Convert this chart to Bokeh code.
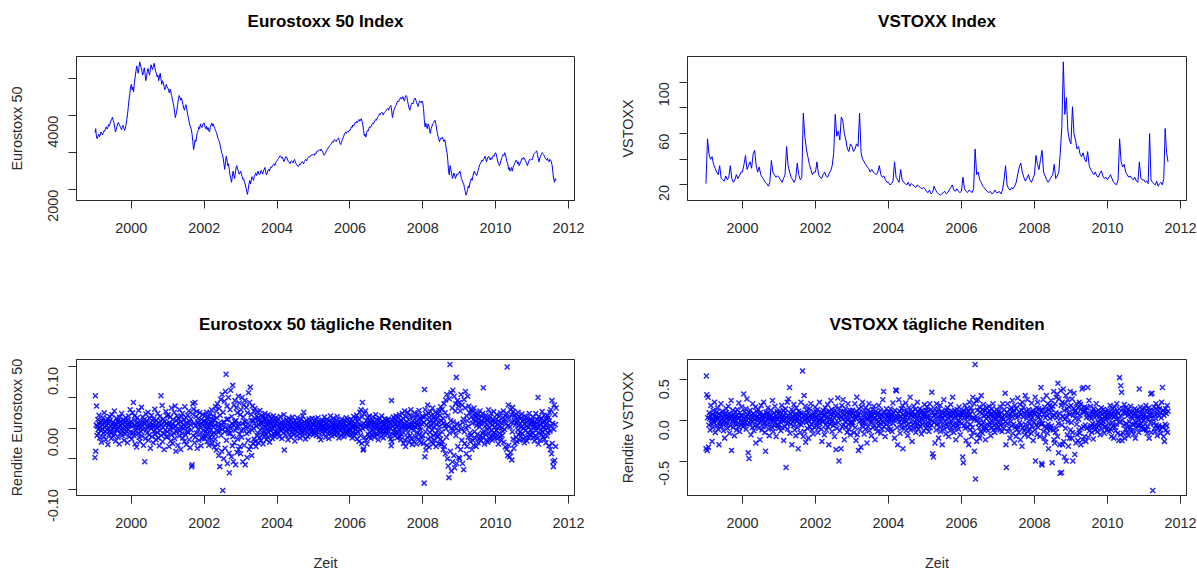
import math
import numpy as np
from bokeh.plotting import figure
from bokeh.layouts import row, column
from bokeh.models import FixedTicker, Range1d, PrintfTickFormatter, Title
from bokeh.embed import file_html
from bokeh.resources import INLINE

# ---------------------------------------------------------------- data
START_YEAR = 1999
LAST_DATE = 2011.66          # last observation (end of August 2011)
X_TICKS = [2000, 2002, 2004, 2006, 2008, 2010, 2012]

# Eurostoxx 50 index level (about four readings per month)
estx_1999 = [3540, 3650, 3420, 3380, 3450, 3500, 3430, 3480, 3560, 3520, 3480, 3540, 3600, 3580, 3650, 3700, 3640, 3690, 3760, 3720, 3800, 3860, 3900, 3960, 3880, 3820, 3700, 3560, 3620, 3720, 3780, 3820, 3760, 3720, 3680, 3620, 3700, 3740, 3680, 3600, 3650, 3760, 3900, 4050, 4250, 4450, 4600, 4780]
estx_2000 = [4850, 4700, 4780, 4650, 4900, 5050, 5200, 5350, 5250, 5150, 5300, 5460, 5380, 5300, 5200, 5100, 5200, 5300, 5150, 4950, 5050, 5200, 5280, 5180, 5100, 5250, 5380, 5300, 5250, 5350, 5420, 5300, 5200, 5150, 5050, 5100, 4950, 5050, 5150, 5000, 4850, 4950, 4900, 4800, 4700, 4760, 4850, 4780]
estx_2001 = [4750, 4700, 4620, 4720, 4650, 4550, 4450, 4350, 4250, 4100, 3950, 4050, 4150, 4300, 4450, 4550, 4500, 4420, 4480, 4400, 4300, 4200, 4150, 4250, 4300, 4180, 4050, 3950, 3850, 3750, 3700, 3620, 3500, 3300, 3080, 3200, 3350, 3300, 3450, 3550, 3600, 3700, 3650, 3780, 3720, 3680, 3750, 3800]
estx_2002 = [3800, 3700, 3650, 3720, 3620, 3680, 3600, 3560, 3680, 3750, 3800, 3720, 3780, 3700, 3650, 3600, 3550, 3480, 3400, 3350, 3300, 3200, 3100, 3000, 2950, 2850, 2700, 2550, 2750, 2900, 2800, 2650, 2700, 2550, 2400, 2300, 2200, 2350, 2500, 2400, 2300, 2450, 2600, 2650, 2550, 2500, 2420, 2450]
estx_2003 = [2500, 2420, 2350, 2280, 2300, 2200, 2150, 2050, 1950, 1870, 2000, 2150, 2250, 2150, 2250, 2350, 2300, 2250, 2350, 2400, 2450, 2380, 2450, 2500, 2420, 2400, 2450, 2520, 2480, 2420, 2500, 2550, 2600, 2480, 2400, 2450, 2520, 2550, 2500, 2580, 2620, 2600, 2650, 2680, 2700, 2650, 2720, 2760]
estx_2004 = [2780, 2820, 2850, 2880, 2920, 2900, 2850, 2880, 2820, 2760, 2800, 2880, 2900, 2860, 2800, 2760, 2740, 2700, 2750, 2780, 2760, 2720, 2780, 2820, 2760, 2700, 2680, 2640, 2620, 2660, 2700, 2680, 2720, 2760, 2740, 2700, 2760, 2800, 2820, 2780, 2840, 2870, 2900, 2880, 2920, 2940, 2920, 2950]
estx_2005 = [2950, 2930, 2980, 2960, 3020, 3050, 3040, 3060, 3080, 3050, 3100, 3060, 3020, 2980, 2930, 2960, 3000, 3040, 3080, 3120, 3150, 3180, 3200, 3230, 3260, 3300, 3280, 3330, 3360, 3320, 3300, 3350, 3380, 3400, 3330, 3250, 3220, 3280, 3350, 3400, 3450, 3520, 3550, 3520, 3560, 3580, 3560, 3600]
estx_2006 = [3600, 3650, 3700, 3680, 3750, 3720, 3780, 3820, 3800, 3850, 3820, 3870, 3900, 3850, 3880, 3920, 3850, 3750, 3600, 3460, 3500, 3420, 3550, 3600, 3580, 3650, 3700, 3680, 3720, 3760, 3800, 3780, 3830, 3860, 3900, 3880, 3940, 3980, 4000, 4050, 4030, 4080, 4100, 4060, 4020, 4080, 4100, 4120]
estx_2007 = [4150, 4180, 4200, 4150, 4220, 4250, 4280, 4150, 3950, 4050, 4150, 4200, 4250, 4300, 4350, 4400, 4380, 4420, 4460, 4500, 4450, 4480, 4520, 4420, 4400, 4500, 4550, 4520, 4400, 4300, 4200, 4150, 4250, 4300, 4350, 4320, 4400, 4450, 4480, 4420, 4350, 4300, 4250, 4350, 4400, 4380, 4350, 4400]
estx_2008 = [4350, 4200, 3900, 3700, 3800, 3720, 3650, 3780, 3750, 3600, 3520, 3650, 3700, 3780, 3800, 3850, 3880, 3800, 3700, 3550, 3450, 3400, 3300, 3350, 3400, 3380, 3420, 3350, 3300, 3350, 3250, 3100, 3000, 2800, 2500, 2400, 2650, 2550, 2450, 2300, 2350, 2450, 2400, 2300, 2350, 2420, 2400, 2450]
estx_2009 = [2450, 2500, 2400, 2300, 2250, 2180, 2150, 2050, 1950, 1850, 1900, 2000, 2100, 2050, 2150, 2250, 2300, 2250, 2350, 2450, 2500, 2450, 2400, 2380, 2450, 2520, 2600, 2680, 2700, 2750, 2800, 2770, 2820, 2850, 2900, 2850, 2750, 2820, 2880, 2900, 2850, 2800, 2860, 2820, 2880, 2920, 2900, 2960]
estx_2010 = [3000, 2950, 2850, 2750, 2700, 2650, 2700, 2780, 2850, 2900, 2950, 2920, 3000, 2950, 2850, 2750, 2700, 2550, 2600, 2500, 2550, 2600, 2500, 2600, 2650, 2700, 2750, 2800, 2780, 2700, 2750, 2650, 2700, 2750, 2800, 2850, 2820, 2870, 2850, 2800, 2750, 2700, 2650, 2720, 2780, 2820, 2800, 2820]
estx_2011 = [2800, 2850, 2950, 2980, 3000, 3030, 3050, 2950, 2850, 2750, 2850, 2900, 2950, 3000, 2980, 2950, 2900, 2850, 2820, 2800, 2850, 2780, 2750, 2820, 2800, 2750, 2650, 2450, 2280, 2200, 2300, 2250]

# VSTOXX index level
vstx_1999 = [21, 56, 44, 40, 42, 36, 33, 30, 28, 35, 25, 24, 23, 27, 24, 26, 35, 25, 22, 24, 28, 25, 27, 30]
vstx_2000 = [30, 36, 43, 32, 35, 38, 33, 44, 47, 35, 30, 34, 28, 26, 24, 22, 21, 19, 22, 39, 30, 28, 26, 27]
vstx_2001 = [26, 24, 22, 25, 28, 50, 35, 30, 26, 24, 22, 25, 37, 28, 24, 26, 76, 58, 48, 42, 36, 32, 28, 30]
vstx_2002 = [30, 38, 28, 26, 25, 28, 30, 27, 26, 29, 31, 35, 45, 75, 58, 62, 55, 73, 70, 60, 55, 48, 46, 52]
vstx_2003 = [50, 46, 48, 52, 50, 76, 45, 40, 38, 36, 34, 33, 30, 32, 30, 29, 28, 30, 35, 28, 26, 27, 24, 22]
vstx_2004 = [22, 20, 21, 23, 38, 26, 24, 22, 32, 24, 22, 21, 20, 22, 19, 21, 20, 19, 18, 20, 19, 18, 17, 18]
vstx_2005 = [17, 15, 14, 16, 13, 14, 19, 16, 14, 13, 12, 13, 14, 15, 13, 14, 16, 18, 20, 16, 15, 17, 15, 14]
vstx_2006 = [15, 26, 17, 15, 14, 16, 15, 14, 17, 48, 28, 30, 24, 22, 19, 18, 16, 15, 14, 15, 13, 14, 16, 14]
vstx_2007 = [14, 15, 13, 16, 24, 35, 20, 17, 16, 18, 17, 19, 22, 28, 34, 37, 30, 26, 23, 25, 28, 24, 22, 25]
vstx_2008 = [28, 43, 36, 32, 40, 47, 30, 27, 24, 22, 24, 26, 28, 36, 25, 27, 30, 45, 65, 116, 75, 88, 62, 55]
vstx_2009 = [52, 81, 60, 55, 48, 50, 44, 42, 45, 40, 38, 46, 35, 32, 30, 28, 30, 27, 26, 29, 31, 27, 25, 26]
vstx_2010 = [24, 26, 28, 25, 22, 21, 20, 24, 56, 38, 34, 36, 30, 28, 26, 27, 25, 24, 26, 23, 22, 38, 25, 24]
vstx_2011 = [24, 22, 23, 21, 60, 24, 22, 21, 20, 23, 19, 21, 22, 20, 25, 64, 45, 38]

# Eurostoxx 50 daily returns, in thousandths
eret_1999 = [-48, 53, -38, 5, 36, -12, 3, 14, -2, -9, 21, 7, -16, 1, 10, -4, -23, 12, 6, -1, 17, -8, -14, 25, 2, -6, 9, -19, 11, 4, -3, 15, -27, 8, 0, -11, 19, -5, 13, 3, -17, -7, 22, 6, -2, 10, -13, 1, 28, -9, 4, -21, 7, 16, -4, -1, 12, -15, 9, 2, -26, 18, 5, -8, 11, -3, 24, -12, 0, 7, -6, 14, -20, 3, 9, -10, 17, 1, -5, 13, -24, 6, -2, 20, 8, -14, 4, 30, -7, 11]
eret_2000 = [10, -18, 3, 25, -7, 42, -12, 5, 20, -26, 1, 13, -4, -31, 8, 17, -9, 2, 29, -15, 6, -22, 11, 0, -6, 34, -13, 4, 18, -2, -28, 9, 14, -55, 7, -17, 23, -3, 12, -8, 1, 26, -20, 5, -11, 16, 3, -33, 9, -1, 21, -14, 6, 2, -24, 15, -5, 10, 31, -10, 4, -19, 13, 0, -7, 24, -16, 8, 3, -29, 19, -4, 12, 53, -12, 6, 37, -22, 1, 15, -9, -35, 11, 5, -3, 27, -14, 7, 20, -6]
eret_2001 = [-14, 22, 5, -30, 9, -3, 18, -21, 2, 33, -11, 7, -25, 14, 0, -8, 26, -17, 36, 4, -38, 12, -6, 20, -2, -28, 16, 8, -13, 30, -4, 10, -35, 1, 19, -9, 24, -16, 6, -1, 13, -22, 35, 3, -11, 17, -27, 9, -5, 21, -7, 2, 28, -19, 11, -32, 5, 15, -3, -63, -60, 23, 40, -12, 31, 8, -24, 42, -15, 4, 19, -8, 27, -33, 10, -2, 16, -20, 6, 25, -10, 1, -29, 14, 7, -17, 22, -4, 11, -13]
eret_2002 = [12, -17, 4, 21, -6, -13, 9, 26, -2, -22, 15, 3, -9, 18, -28, 7, 1, -15, 24, -4, 11, -19, 30, 6, -11, -25, 14, 2, 20, -7, -31, 13, 5, -18, 35, -10, 28, -36, 17, -4, 40, -27, 3, 8, -45, 32, -5, -63, 21, 0, 47, -12, 6, -38, 55, -2, -102, 26, 9, -50, 10, 44, -6, -33, 60, 2, 88, -20, 14, 36, -58, -3, 15, 50, -9, -41, -73, 4, 30, -8, 62, -1, -47, 19, 7, -29, 70, -14, -55, 5, 38, -24, 11, 45, -4, -60, 12, 33, 0, -40, 25, -18, 3, 52, -35, 8, 41, -10, -30, 22]
eret_2003 = [-42, 30, -4, -15, 50, 7, -55, 18, -2, 38, -28, 11, 45, -60, 3, 10, 34, -9, -48, 25, 1, -20, 58, -6, -35, 42, 5, 67, -30, 13, 22, -45, -3, 36, 12, -25, 0, 28, -18, 8, 32, -22, 15, -30, 3, 20, -12, 26, -8, 17, -24, 5, 13, -16, 29, -3, 10, -20, 7, 21, -11, 1, 18, -26, 9, -5, 14, -13, 24, 2, -9, 16, -19, 6, 11, -2, -15, 22, 4, -7, 12, -23, 8, 19, -4, 0, -12, 15, 6, -17, 10, -1, 20, -9, 3, 13, -14, 7, -6, 17, -10, 5]
eret_2004 = [11, -6, 3, 15, -9, 1, -14, 7, 19, -4, 0, 9, -17, 5, -2, 12, -8, 22, -36, 4, 8, -12, 2, 14, -5, -1, 10, -19, 6, 16, -3, -10, 1, 7, -15, 13, 3, -7, 18, -2, 9, -11, 0, 5, -21, 12, -4, 8, 2, -13, 17, -6, 4, 0, -9, 11, 6, -16, 1, 14, -3, 8, -7, 20, -12, 3, 26, -5, 10, -1, -18, 7, 2, 13, -8, 4, -14, 9, -2, 15, 5, -10, 1, 11, -6, 0, 16, -4, 7, -11]
eret_2005 = [6, -3, 12, -8, 1, 15, -5, -12, 4, 9, -1, 17, -7, 2, -14, 10, 0, 5, -19, 8, 3, -6, 13, -2, 11, -10, 4, 18, -4, 0, -15, 7, 9, -3, 14, -9, 1, 6, -17, 12, 2, -5, 20, -8, 3, 10, -13, -1, 7, 16, -6, 4, -11, 0, 8, -3, 13, -7, 2, 19, -10, 5, 1, -16, 9, -2, 11, -4, 6, -12, 15, 0, -8, 3, 10, -14, 7, -1, 12, -6, 4, 17, -9, 2, -5, 14, -11, 8, 0, -3]
eret_2006 = [9, -4, 14, -11, 2, 7, -16, 12, 0, -7, 19, 4, -13, 8, -2, 16, -9, 3, 21, -18, 10, -5, 1, 15, -22, 6, 26, -3, -12, 30, 5, -25, 18, 42, -1, -36, -34, 8, 24, -15, 2, 28, -20, 4, 12, -26, 8, 17, -10, 3, -14, 20, -6, 11, 0, -17, 9, 5, -12, 13, -3, 18, -8, 2, 10, -15, 6, -1, 22, -9, 4, 14, -11, 1, 7, -19, 12, -4, 16, 0, -7, 9, -13, 3, 20, -5, 11, -2, -16, 8, 4, -10, 15, -6, 1, 13]
eret_2007 = [8, -3, 12, -9, 1, 15, -6, 4, -13, 10, 0, 7, -18, -29, 45, -22, 13, 3, -10, 18, -5, 9, -1, 14, -12, 6, 20, -7, 2, -16, 11, 4, -8, 17, -3, 22, -14, 5, 9, -19, 13, 0, -11, 24, -6, 16, -25, 8, 2, 28, -20, 3, -30, 19, -2, 10, -15, 26, -8, 4, 14, -23, 1, 21, -12, 6, 30, -17, 0, 6, -27, 12, 18, -4, -21, 3, 25, 9, -14, 2, 17, -26, 11, -7, 5, 22, -18, 5, 29, -10, 1, 15, -3, -24, 13, 7, -16, 20]
eret_2008 = [-12, 18, -25, 9, -90, 63, -47, 30, -6, -36, 22, 5, -28, 15, 38, -18, 2, 24, -31, 11, -7, 27, -15, 4, 20, -22, 13, -3, 33, -26, 8, -12, 19, 1, -20, 26, -9, 14, -30, 6, 17, -14, 23, -4, 10, -25, 29, -11, 3, 21, -18, 35, -27, 12, -6, 31, -22, 16, -35, 8, 40, -30, 4, 25, -42, 46, -1, -15, 55, 6, -50, 20, -62, 3, -81, 48, -8, 104, -38, 12, 58, -70, 0, 33, -55, 62, 10, -5, -45, 52, -65, 2, 28, 40, -12, 83, -58, 7, 45, -30, -4, 36, -48]
eret_2009 = [42, -50, 5, 28, -35, 55, -2, -20, 38, -58, 9, 15, -68, 47, -6, -25, 33, 60, 1, -42, 20, -30, 12, 52, -15, 3, 36, -48, 25, -8, -22, 30, -12, 18, -35, 8, 27, -20, 14, -28, 33, -6, 20, -16, 11, 25, -30, 4, 17, -10, 22, -24, 9, 15, -18, 2, 28, -13, 7, -21, 19, 12, -8, 24, -15, 66, -5, 10, -26, 16, 3, -11, 21, -19, 6, 14, -2, -23, 13, 30, -9, 1, -17, 18, 8, -14, 24, -4, 11, -20, 5, 15, -12, 27, -7, 2, -16, 9]
eret_2010 = [-10, 15, -4, 22, -17, 6, 0, -26, 12, 19, -8, 3, -14, 25, -20, 9, 1, -12, 17, -5, 28, -23, 10, -2, 14, -31, 20, 7, -35, 24, 100, -45, 4, 38, -28, 16, -47, 2, 30, -40, 9, 22, -52, -6, 34, -18, 27, -33, 12, 21, -25, 5, 18, -15, 9, -22, 13, -3, 26, -11, 4, 19, -20, 8, -6, 16, -13, 2, 23, -9, 11, -18, 0, 14, -24, 7, 20, -4, -15, 10, 3, -21, 17, -7, 12, 1, -16, 24, -10, 6, -12, 15, -3, 9]
eret_2011 = [12, -8, 3, 18, -15, 6, -21, 10, 1, -12, 24, -4, 8, -17, 14, 0, 50, -26, 19, -9, 5, 13, -20, 7, -2, 16, -11, 27, -6, 9, -14, 2, 21, -18, 11, -3, 15, -24, 4, 8, -13, 20, -7, 1, 17, -29, 12, 26, -5, -35, 30, 3, -42, 45, -25, 8, -55, -63, -2, 38, -53, 22, 6, -30, 33]

# VSTOXX daily returns, in hundredths
vret_1999 = [-35, 54, 31, -37, 3, 28, -33, -6, 9, 2, -12, 5, 18, -4, 1, -26, 7, -9, 12, 0, -3, 22, 6, -15, 4, -1, 10, -7, 2, 15, -11, 3, -30, 8, -2, 6, -5, 20, -8, 1, 11, -4, 3, -13, 7, 0, -22, 5, 9, -3, 14, -6, 2, -10, 4, 17, -1, 8, -16, 3, -7, 6, 24, -37, 5, -2, 12, -9, 1, 7, -19, 4, -4, 10, 0, -12, 6, 13, -5, 2, -8, 21, 3, -14, 9, -1, 5, -6, 16, -3]
vret_2000 = [5, -8, 2, 32, -6, 10, -3, 1, 14, -11, 4, 26, -5, 7, -40, 2, -47, 9, -4, 12, 0, -18, 6, 3, -9, 20, -2, 8, -13, 1, 5, -7, 16, -28, 3, 11, -1, -6, 4, 13, -10, 2, 7, -24, 9, -3, 18, 0, -12, 5, 1, -8, 22, -4, 6, -15, 3, -38, 10, -2, 8, -6, 1, 15, -11, 4, -19, 7, 2, -5, 12, -1, 6, -9, 24, 3, -14, 0, 9, -7, 17, -3, 5, -20, 2, 11, -6, 1, 8, -10]
vret_2001 = [-6, 3, 11, -2, 7, -13, 1, 18, -9, 4, -1, 12, -25, 5, 0, -8, 9, 14, -58, 3, -4, 22, -11, 6, 26, -3, 2, 40, -16, 8, -5, 1, 13, -30, 4, -2, 10, -7, 19, 0, -12, 6, 3, -19, 15, -1, 7, -9, 2, -35, 11, -4, 5, 0, -15, 9, 22, -6, 3, 8, 60, -2, -20, 5, 30, -14, 1, 17, -27, 6, -3, 12, -10, 2, 9, -22, 4, -1, 14, -8, 5, 20, -5, 1, -12, 7, 3, -17, 10, -2, 6, -9, 16]
vret_2002 = [4, -7, 2, 10, -3, 13, -15, 6, 1, -9, 22, -4, 0, 8, -11, 3, -26, 9, -2, 12, -1, 7, -18, 5, 15, -6, 2, -12, 10, -3, 19, -8, 4, -30, 11, 1, -5, 7, 24, -2, 13, -14, 0, 6, -7, 9, 3, -20, 12, -4, 17, -36, 5, -10, 8, 27, -3, 2, -50, 14, -13, 6, 10, -35, 4, 18, -8, 1, 25, -6, 11, -24, 7, -2, 14, -9, 3, 9, -15, 0, 20, -5, 8, -11, 2, 12, -18, 6, -3, 9]
vret_2003 = [-6, 12, -3, 8, 1, -15, 5, 20, -9, 2, -25, 11, 28, -18, 4, 7, -37, 14, -2, 9, -12, 3, -33, 16, 0, -7, 22, -4, 10, -1, -17, 6, 3, -11, 15, -5, 8, -28, 2, 12, -8, 1, 20, -13, 4, 7, -3, 10, -19, 5, -1, 13, -9, 2, 17, -6, 8, -24, 3, 11, -10, 0, 6, -14, 9, -2, 18, -7, 4, -4, 12, -16, 1, 7, -11, 5, 25, -3, 35, -8, 10, 2, -20, 6, -5, 14, -1, 9, -12, 4]
vret_2004 = [5, -8, 1, 10, -3, 14, -11, 6, 2, -14, 7, 21, -4, 9, 0, -22, 12, 3, 37, 2, 36, -9, 4, -30, 8, 1, 25, -2, 11, -16, 5, -6, 14, -10, 2, 18, -35, 7, -3, 12, 0, -8, 4, 21, -13, 6, -1, 10, -19, 8, -5, 15, -9, 3, 28, -12, 6, -2, 9, -26, 11, -6, 4, 17, -10, 7, -3, 13, -15, 5, 1, -8, 22, -4, 10, -11, 6, -2, 14, -7, 3, 9, -17, 2, 12, -5, 0, 8, -13, 4, 19]
vret_2005 = [8, -5, 12, -10, 4, 16, -7, 2, -3, 11, -14, 6, 20, -9, 1, 13, -6, 34, -1, -41, 9, -45, 6, -3, 14, -28, 7, 2, -12, 20, -6, 10, -4, 13, -22, 5, 1, -9, 18, -14, 6, -2, 11, -30, 8, 3, -7, 25, -11, 5, -1, 9, -17, 12, -5, 7, 15, -8, 2, -20, 10, -3, 6, -13, 19, 4, -9, 11, -2, 28, -6, 8, -15, 3, 12, -10, 5, -24, 9, -4, 13, -7, 6, 0, -11, 16, -2, 7, -18, 3, 10]
vret_2006 = [6, -4, 10, -45, 8, -52, 12, -7, 3, 18, -10, 5, -25, 9, -2, 14, -8, 4, 11, -30, 6, 22, -12, 7, -5, 15, -20, 2, 11, -9, 28, -15, 3, 20, -38, 1, 68, -72, 5, 24, -26, 0, 12, -18, 25, -4, -9, 16, -22, 10, 2, -14, 30, -6, 8, -16, 13, -3, 19, -11, 5, -8, 12, -24, 7, 2, -10, 15, -5, 9, -13, 4, 17, -7, 11, -3, 6, -19, 8, -1, 14, -9, 5, 20, -12, 3, -6, 10, -15, 1, 8, -4, 13, -10, 2, 7]
vret_2007 = [5, -8, 11, -3, 7, -12, 16, -6, 2, 9, -14, 4, 20, -5, 1, -10, 13, 6, 33, -2, -30, -58, 9, -4, 20, -14, 6, 3, -10, 13, -22, 8, -2, 15, -7, 4, 24, -16, 10, -5, 12, -28, 18, -9, 6, -20, 14, 3, -11, 27, -8, 5, -15, 10, -3, 19, -24, 7, -6, 12, -32, 22, -10, 4, 16, -13, 8, -18, 30, -5, 11, -9, 2, 25, -14, 6, -20, 13, -4, 9, -11, 7, 1, -16, 21, -7, 3, 12, -25, 8, -2]
vret_2008 = [8, -12, 28, -50, 10, -6, 15, -18, 5, 22, -9, 3, 14, -4, 7, -20, 1, 12, 40, -5, -53, -55, 12, -4, 25, -14, 7, -22, 16, -8, 3, -27, 11, 30, -10, 6, -16, 20, -5, -35, 13, -9, 18, 2, -11, 9, 24, -7, 14, -52, 4, 17, -12, 35, -24, 6, -28, 20, -15, 9, 28, -10, 3, 32, -20, 45, -4, -40, 26, 8, -30, -65, 2, 36, 18, -64, -6, 22, -30, 5, 38, -26, 12, -45, 1, 20, -10, 30, -50, 4, 14, -18, 25, -2, -32, 9, 16, -22, 7, 35, -12]
vret_2009 = [18, -3, -22, 26, -15, -50, 6, 14, 33, 10, -42, 2, 12, -28, 20, -5, -18, 8, -25, 15, 1, -12, 22, -16, 6, 19, -30, 14, -10, 38, -24, 11, 40, -8, 9, -20, 16, -6, 12, -26, 3, 15, -10, 8, 40, -21, 6, 24, -13, 4, -9, 17, -7, 2, -15, 11, -4, 9, -23, 7, 14, -8, 3, -12, 10, -5, 20, -9, 6, -14, 8, -3, 12, -7, 5, 1, -18, 10, -4, 15, -11, 2, 7, -6, 13, -2, 9, -16, 4, 11, -8, 1, 6, -12, 3]
vret_2010 = [6, -9, 12, -4, 9, -14, 3, 18, -11, 5, -20, 8, -3, 14, -7, 10, -22, 4, 16, -9, 7, -13, 1, -5, 20, 11, -16, 2, 8, -25, 14, 52, -3, -18, 42, 5, 34, -25, 0, 14, -16, 10, -6, 19, -22, 8, -11, 15, -4, 9, -15, 5, -8, 13, -19, 7, -2, 11, -9, 17, -13, 4, 10, -5, 2, -12, 6, -17, 9, -5, 14, -22, 8, -3, 12, -10, 5, 3, -7, 1, -15, 38, 11, -6, 16, -4, 7, -9, 2, 13, -11, 4, 0]
vret_2011 = [8, -11, 14, -5, 3, 18, -12, 4, -16, 10, -8, 1, 15, -22, 11, 6, -3, 32, -15, 6, 33, 2, -86, 12, -4, 16, -10, 7, -14, 2, 20, -6, 13, -19, 8, -10, 17, -7, 5, 14, -12, 9, -16, 3, 22, -8, 40, -9, 12, -20, 6, -26, 10, -5, 14, -12, 8, -7, 18, -15, 11]

ESTX_LEVEL = [estx_1999, estx_2000, estx_2001, estx_2002, estx_2003, estx_2004, estx_2005,
              estx_2006, estx_2007, estx_2008, estx_2009, estx_2010, estx_2011]
VSTX_LEVEL = [vstx_1999, vstx_2000, vstx_2001, vstx_2002, vstx_2003, vstx_2004, vstx_2005,
              vstx_2006, vstx_2007, vstx_2008, vstx_2009, vstx_2010, vstx_2011]
ESTX_RET = [eret_1999, eret_2000, eret_2001, eret_2002, eret_2003, eret_2004, eret_2005,
            eret_2006, eret_2007, eret_2008, eret_2009, eret_2010, eret_2011]
VSTX_RET = [vret_1999, vret_2000, vret_2001, vret_2002, vret_2003, vret_2004, vret_2005,
            vret_2006, vret_2007, vret_2008, vret_2009, vret_2010, vret_2011]


def to_series(year_lists, unit=1.0):
    """Observations of each year are taken as evenly spaced through that year."""
    xs, ys = [], []
    for k, vals in enumerate(year_lists):
        year = START_YEAR + k
        n = len(vals)
        step = (LAST_DATE - year) / (n - 1) if k == len(year_lists) - 1 else 1.0 / n
        xs.extend(year + step * i for i in range(n))
        ys.extend(v * unit for v in vals)
    return np.array(xs), np.array(ys, dtype=float)


def r_range(vals):
    lo, hi = float(np.min(vals)), float(np.max(vals))
    pad = 0.04 * (hi - lo)
    return Range1d(lo - pad, hi + pad)


FONT = "Liberation Sans"
INK = "#2b2b2b"


def make_fig(x, y, title, ylabel, xlabel, width, height, borders, yticks, overrides,
             fmt=None, gap=18):
    left, right, top, bottom = borders
    p = figure(width=width, height=height, output_backend="svg", toolbar_location=None,
               x_range=r_range(x), y_range=r_range(y),
               min_border_left=left, min_border_right=right,
               min_border_top=top, min_border_bottom=bottom)
    # an empty spacer title next to the frame, then the real title above it
    p.add_layout(Title(text=" ", text_font_size="1px", standoff=gap), "above")
    p.add_layout(Title(text=title, align="center", text_font=FONT, text_font_size="17px",
                       text_font_style="bold", text_color="black", standoff=10), "above")
    p.grid.visible = False
    p.outline_line_color = INK
    p.outline_line_width = 1
    p.background_fill_color = "white"
    p.border_fill_color = "white"
    for ax in (p.xaxis[0], p.yaxis[0]):
        ax.major_tick_out = 8
        ax.major_tick_in = 0
        ax.minor_tick_line_color = None
        ax.axis_line_color = INK
        ax.major_tick_line_color = INK
        ax.major_label_text_font = FONT
        ax.major_label_text_font_size = "14.4px"
        ax.major_label_text_color = INK
        ax.axis_label_text_font = FONT
        ax.axis_label_text_font_size = "14.4px"
        ax.axis_label_text_font_style = "normal"
        ax.axis_label_text_color = INK
    xa = p.xaxis[0]
    xa.ticker = FixedTicker(ticks=X_TICKS)
    xa.major_label_standoff = 14
    if xlabel:
        xa.axis_label = xlabel
        xa.axis_label_standoff = 24
    ya = p.yaxis[0]
    ya.ticker = FixedTicker(ticks=yticks)
    ya.major_label_orientation = math.pi / 2
    ya.major_label_standoff = 15
    ya.axis_label = ylabel
    ya.axis_label_standoff = 16
    if fmt:
        ya.formatter = PrintfTickFormatter(format=fmt)
    if overrides:
        ya.major_label_overrides = overrides
    return p


ex, ey = to_series(ESTX_LEVEL)
vx, vy = to_series(VSTX_LEVEL)
rx, ry = to_series(ESTX_RET, 0.001)
wx, wy = to_series(VSTX_RET, 0.01)

p1 = make_fig(ex, ey, "Eurostoxx 50 Index", "Eurostoxx 50", None, 598, 287, (76, 24, 56, 87),
              [2000, 3000, 4000, 5000], {3000: "", 5000: ""})
p1.line(ex, ey, line_color="blue", line_width=1)

p2 = make_fig(vx, vy, "VSTOXX Index", "VSTOXX", None, 598, 287, (89, 10, 56, 87),
              [20, 40, 60, 80, 100], {40: "", 80: ""})
p2.line(vx, vy, line_color="blue", line_width=1)

p3 = make_fig(rx, ry, "Eurostoxx 50 tägliche Renditen", "Rendite Eurostoxx 50", "Zeit", 598, 286,
              (76, 24, 72, 70), [-0.1, -0.05, 0.0, 0.05, 0.1], {0.05: "", -0.05: ""}, "%.2f")
p3.scatter(rx, ry, marker="x", size=7, line_color="blue", line_width=1.5, line_alpha=0.85)

p4 = make_fig(wx, wy, "VSTOXX tägliche Renditen", "Rendite VSTOXX", "Zeit", 598, 286,
              (89, 10, 72, 70), [-0.5, 0.0, 0.5], None, "%.1f")
p4.scatter(wx, wy, marker="x", size=7, line_color="blue", line_width=1.5, line_alpha=0.85)

layout = column(row(p1, p2), row(p3, p4))
open("out.html", "w").write(file_html(layout, INLINE))
